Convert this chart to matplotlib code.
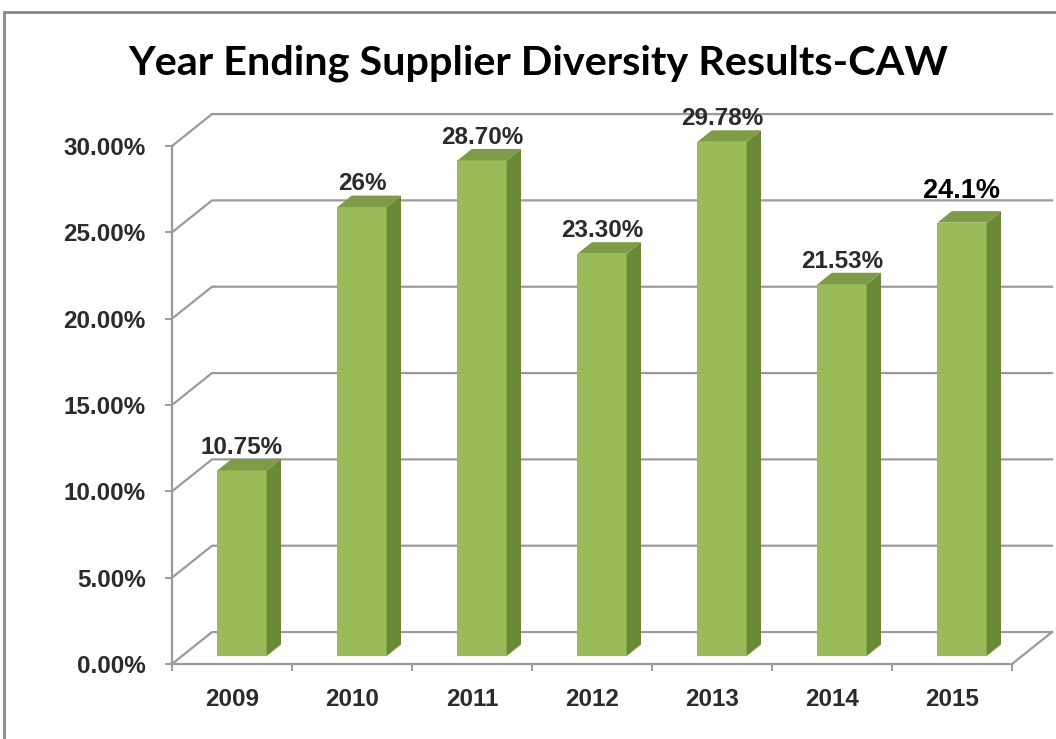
import numpy as np
import matplotlib.pyplot as plt
from matplotlib.patches import Polygon, Rectangle

plt.rcParams.update({"font.family": "Liberation Sans", "font.weight": "bold"})

years = ["2009", "2010", "2011", "2012", "2013", "2014", "2015"]
values = [10.75, 26.0, 28.70, 23.30, 29.78, 21.53, 25.1]
value_labels = ["10.75%", "26%", "28.70%", "23.30%", "29.78%", "21.53%", "24.1%"]
y_ticks = [0, 5, 10, 15, 20, 25, 30]
y_tick_labels = ["0.00%", "5.00%", "10.00%", "15.00%", "20.00%", "25.00%", "30.00%"]
title = "Year Ending Supplier Diversity Results-CAW"

FRONT = "#9bbb59"
SIDE = "#6b8a38"
TOP = "#7d9c45"
GRID = "#9a9a9a"
TEXT = "#2b2b2b"

DX, DY = 1 / 3, 1.85  # floor depth in data units (oblique 3d look)
F, BD = 0.25, 0.36  # bar front offset / bar depth, fraction of floor depth
W = 0.41

fig = plt.figure(figsize=(10.56, 7.39), dpi=100)

# outer chart border
fig.patches.append(
    Rectangle((4 / 1056, -0.05), 1.2, 1.05 - 12 / 739, transform=fig.transFigure,
              fill=False, edgecolor="#8a8a8a", lw=2.0)
)

ax = fig.add_axes([172 / 1056, 75 / 739, 840 / 1056, 518 / 739])
n = len(years)
ax.set_xlim(-0.5, n - 0.5)
ax.set_ylim(0, 30)
ax.patch.set_visible(False)

# side wall diagonals + back wall gridlines
for v in y_ticks:
    ax.plot([-0.5, -0.5 + DX, n - 0.5 + DX], [v, v + DY, v + DY],
            color=GRID, lw=1.6, clip_on=False, zorder=1)
ax.plot([n - 0.5, n - 0.5 + DX], [0, DY], color=GRID, lw=1.6, clip_on=False, zorder=1)

for s in ["top", "right"]:
    ax.spines[s].set_visible(False)
for s in ["left", "bottom"]:
    ax.spines[s].set_color(GRID)
    ax.spines[s].set_linewidth(1.6)

ax.set_yticks(y_ticks, y_tick_labels)
ax.tick_params(axis="y", length=5, width=1.4, color=GRID, pad=14,
               labelsize=17.5, labelcolor=TEXT)
ax.set_xticks(np.arange(n), years)
ax.set_xticks(np.arange(n + 1) - 0.5, minor=True)
ax.tick_params(axis="x", which="major", length=0, pad=17, labelsize=17.5, labelcolor=TEXT)
ax.tick_params(axis="x", which="minor", length=5, width=1.4, color=GRID)

# bars: front face from the axes, side and top faces as polygons
c = np.arange(n) + F * DX
ax.bar(c, values, width=W, bottom=F * DY, color=FRONT, zorder=3, clip_on=False)
for i, v in enumerate(values):
    x0, x1 = c[i] - W / 2, c[i] + W / 2
    y0, y1 = F * DY, v + F * DY
    ddx, ddy = BD * DX, BD * DY
    side = Polygon([(x1, y0), (x1, y1), (x1 + ddx, y1 + ddy), (x1 + ddx, y0 + ddy)],
                   closed=True, facecolor=SIDE, edgecolor="none", zorder=3, clip_on=False)
    top = Polygon([(x0, y1), (x1, y1), (x1 + ddx, y1 + ddy), (x0 + ddx, y1 + ddy)],
                  closed=True, facecolor=TOP, edgecolor="none", zorder=3, clip_on=False)
    ax.add_patch(side)
    ax.add_patch(top)

    # last label was typed in bigger and black in the original
    if i == n - 1:
        ax.text(c[i], y1 + ddy + 0.75, value_labels[i], ha="center", va="baseline",
                fontsize=19.5, color="black", zorder=4, clip_on=False)
    else:
        ax.text(c[i], y1 + ddy + 0.3, value_labels[i], ha="center", va="baseline",
                fontsize=17.5, color=TEXT, zorder=4, clip_on=False)

t = fig.text(538 / 1056, 1 - 75 / 739, title, ha="center", va="baseline",
             fontfamily="Lato", fontweight="bold", fontsize=30, color="black")
r = fig.canvas.get_renderer()
w = t.get_window_extent(r).width
t.set_fontsize(30 * 820 / w)

fig.savefig("out.png", dpi=100)
